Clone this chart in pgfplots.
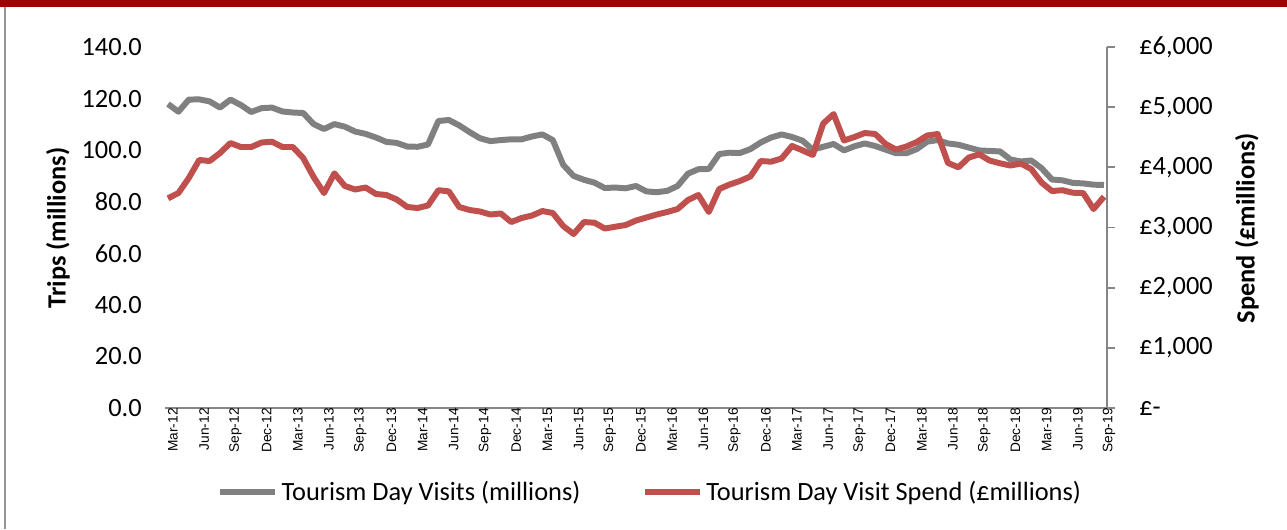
\documentclass[border=0pt]{standalone}
\usepackage{fontspec}
\setmainfont{Carlito}
\newfontfamily\arialfont{Liberation Sans}
\usepackage{pgfplots}
\usepackage{pgfplotstable}
\pgfplotsset{compat=1.18}

\definecolor{visitgray}{RGB}{128,128,128}
\definecolor{spendred}{RGB}{192,80,77}
\definecolor{axisgray}{RGB}{134,134,134}
\definecolor{topred}{RGB}{160,0,0}
\definecolor{framegray}{RGB}{150,150,150}

% month index (0 = Mar-12), trips (millions), spend (GBP millions)
\pgfplotstableread{
i trips spend
0 117.9 3485
1 114.9 3573
2 119.6 3823
3 119.7 4122
4 118.9 4105
5 116.5 4238
6 119.6 4404
7 117.5 4338
8 114.8 4338
9 116.3 4413
10 116.5 4426
11 115.0 4338
12 114.6 4338
13 114.4 4155
14 110.1 3839
15 108.2 3573
16 110.1 3900
17 109.1 3690
18 107.2 3632
19 106.3 3665
20 104.9 3557
21 103.2 3540
22 102.8 3465
23 101.4 3341
24 101.3 3324
25 102.2 3366
26 111.3 3620
27 111.7 3600
28 109.6 3341
29 107.0 3291
30 104.6 3266
31 103.5 3216
32 103.9 3233
33 104.2 3091
34 104.2 3158
35 105.3 3199
36 106.1 3274
37 103.9 3241
38 94.3 3025
39 90.0 2892
40 88.5 3091
41 87.4 3080
42 85.3 2983
43 85.5 3013
44 85.2 3041
45 86.1 3116
46 84.0 3166
47 83.7 3216
48 84.2 3258
49 86.1 3307
50 90.9 3457
51 92.6 3540
52 92.7 3258
53 98.5 3640
54 99.0 3715
55 98.9 3773
56 100.4 3848
57 103.0 4105
58 104.9 4094
59 106.1 4147
60 105.1 4355
61 103.7 4283
62 100.2 4205
63 101.3 4728
64 102.4 4886
65 99.9 4446
66 101.5 4504
67 102.6 4571
68 101.6 4554
69 100.2 4388
70 98.8 4296
71 98.8 4346
72 100.4 4421
73 103.3 4529
74 103.9 4554
75 102.6 4072
76 102.1 4000
77 101.0 4163
78 99.9 4216
79 99.7 4113
80 99.5 4067
81 96.4 4030
82 95.6 4063
83 96.0 3972
84 93.0 3747
85 88.6 3606
86 88.3 3620
87 87.3 3578
88 87.1 3573
89 86.6 3307
90 86.5 3512
}\tourism

\pgfplotsset{
  common/.style={
    at={(3.30cm,2.42cm)}, anchor=south west,
    scale only axis, width=18.84cm, height=7.22cm,
    xmin=-0.29, xmax=90.29,
    clip=false,
  },
  visits/.style={color=visitgray, line width=3.4pt, line join=round},
  spend/.style={color=spendred, line width=3.4pt, line join=round},
}

\begin{document}
\begin{tikzpicture}
\useasboundingbox (0,0) rectangle (25.74,10.58);
\fill[topred] (0,10.44) rectangle (25.74,10.58);
\draw[framegray, line width=0.03cm] (0.1,0) -- (0.1,10.44);

% left axis: trips
\begin{axis}[
  common,
  ymin=0, ymax=140,
  axis x line*=bottom, axis y line*=left,
  x axis line style={draw=axisgray, line width=1.1pt},
  y axis line style={draw=none},
  major tick length=0pt,
  tick style={draw=none},
  xtick={0,3,...,90},
  xticklabels={Mar-12,Jun-12,Sep-12,Dec-12,Mar-13,Jun-13,Sep-13,Dec-13,
    Mar-14,Jun-14,Sep-14,Dec-14,Mar-15,Jun-15,Sep-15,Dec-15,
    Mar-16,Jun-16,Sep-16,Dec-16,Mar-17,Jun-17,Sep-17,Dec-17,
    Mar-18,Jun-18,Sep-18,Dec-18,Mar-19,Jun-19,Sep-19},
  xticklabel style={font=\arialfont\fontsize{7.8}{9}\selectfont, rotate=90,
    anchor=east, inner sep=0pt, yshift=-0.1cm},
  ytick={0,20,...,140},
  yticklabels={0.0,20.0,40.0,60.0,80.0,100.0,120.0,140.0},
  yticklabel style={font=\fontsize{15}{18}\selectfont, anchor=east,
    inner sep=0pt, xshift=-0.46cm},
  ylabel={Trips (millions)},
  ylabel style={font=\fontsize{15}{18}\selectfont\bfseries,
    at={(axis description cs:-0.1136,0.4986)}, anchor=center},
]
\addplot[visits] table[x=i, y=trips] {\tourism};
\end{axis}

% right axis: spend
\begin{axis}[
  common,
  ymin=0, ymax=6000,
  axis x line=none, axis y line*=right,
  y axis line style={draw=axisgray, line width=1.1pt},
  ytick style={draw=axisgray, line width=1.1pt},
  tick align=outside, major tick length=0.16cm,
  xtick=\empty,
  ytick={0,1000,...,6000},
  yticklabels={{£-},{£1,000},{£2,000},{£3,000},{£4,000},{£5,000},{£6,000}},
  yticklabel style={font=\fontsize{15}{18}\selectfont, anchor=west,
    inner sep=0pt, xshift=0.48cm},
  ylabel={Spend (£millions)},
  ylabel style={font=\fontsize{15}{18}\selectfont\bfseries,
    at={(axis description cs:1.1486,0.4986)}, anchor=center, rotate=0},
  legend columns=2,
  legend style={at={(axis description cs:0.055,-0.233)}, anchor=west,
    draw=none, fill=none, inner sep=0pt,
    font=\fontsize{15}{18}\selectfont,
    /tikz/every even column/.append style={column sep=1.16cm}},
  legend image code/.code={\draw[#1] (0cm,0cm) -- (1.1cm,0cm);},
]
\addlegendimage{visits}
\addlegendentry{Tourism Day Visits (millions)}
\addplot[spend] table[x=i, y=spend] {\tourism};
\addlegendentry{Tourism Day Visit Spend (£millions)}
\end{axis}
\end{tikzpicture}
\end{document}
